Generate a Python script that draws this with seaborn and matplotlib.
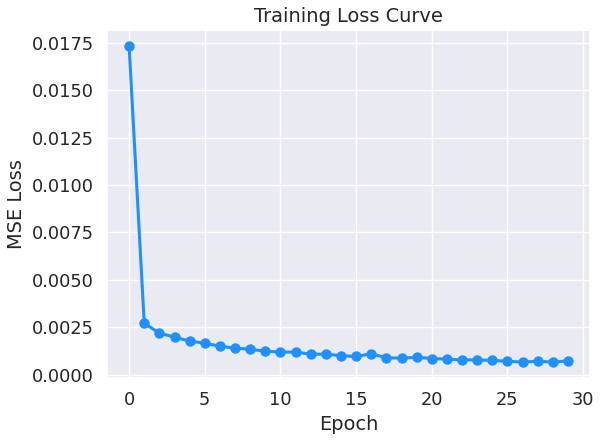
import numpy as np
import pandas as pd
import seaborn as sns
import matplotlib.pyplot as plt

epochs = list(range(30))
loss = [0.01735, 0.00271, 0.00219, 0.00198, 0.00177, 0.00166, 0.00150, 0.00140,
        0.00134, 0.00124, 0.00119, 0.00119, 0.00108, 0.00108, 0.00100, 0.00096,
        0.00110, 0.00089, 0.00087, 0.00092, 0.00085, 0.00082, 0.00078, 0.00078,
        0.00075, 0.00071, 0.00066, 0.00071, 0.00066, 0.00073]

df = pd.DataFrame({'Epoch': epochs, 'MSE Loss': loss})

sns.set_theme(style='darkgrid', font_scale=1.16)
plt.figure(figsize=(6.02, 4.4), dpi=100)
sns.lineplot(
    data=df,
    x='Epoch',
    y='MSE Loss',
    marker='o',
    color='dodgerblue',
    linewidth=2.2,
    markersize=7.5,
    markeredgewidth=0
)
plt.title('Training Loss Curve')
plt.subplots_adjust(left=0.178, right=0.98, top=0.932, bottom=0.141)
plt.savefig('out.png')
